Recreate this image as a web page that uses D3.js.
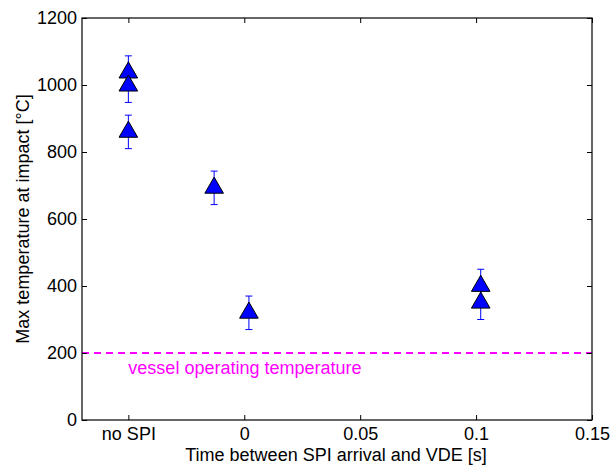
<!DOCTYPE html>
<html>
<head>
<meta charset="utf-8">
<script src="https://cdn.jsdelivr.net/npm/d3@7"></script>
<style>
  html, body { margin: 0; padding: 0; background: #fff; }
  svg { display: block; }
  text { font-family: "Liberation Sans", Arial, Helvetica, sans-serif; }
</style>
</head>
<body>
<div id="chart"></div>
<script>
// Shot timing relative to VDE (s); the "no SPI" cases sit at a placeholder position
const shotDelay = [-0.05, -0.05, -0.05, -0.013, 0.002, 0.102, 0.102];
// Maximum temperature at impact (°C) and its uncertainty
const maxTemp = [1037, 998, 860, 693, 320, 400, 350];
const tempErr = [50, 50, 50, 50, 50, 50, 50];

// Axis ticks
const xTickValues = [-0.05, 0, 0.05, 0.1, 0.15];
const xTickLabels = ["no SPI", "0", "0.05", "0.1", "0.15"];
const yTickValues = [0, 200, 400, 600, 800, 1000, 1200];

// Reference level
const vesselTemp = [200];
const vesselLabel = "vessel operating temperature";

const W = 610, H = 465;
const margin = { left: 82, top: 18, right: 18, bottom: 45 };
const iw = W - margin.left - margin.right;
const ih = H - margin.top - margin.bottom;
const fontSize = 18;

const x = d3.scaleLinear().domain([-0.07, 0.15]).range([0, iw]);
const y = d3.scaleLinear().domain([0, 1200]).range([ih, 0]);

const svg = d3.select("#chart").append("svg")
  .attr("width", W).attr("height", H);
const g = svg.append("g").attr("transform", `translate(${margin.left},${margin.top})`);

// Dashed reference line with its caption
g.selectAll("line.ref").data(vesselTemp).join("line")
  .attr("class", "ref")
  .attr("x1", 0).attr("x2", iw)
  .attr("y1", d => y(d)).attr("y2", d => y(d))
  .attr("stroke", "#ff00ff").attr("stroke-width", 2)
  .attr("stroke-dasharray", "7,5");
g.selectAll("text.ref").data(vesselTemp).join("text")
  .attr("class", "ref")
  .attr("x", x(-0.05))
  .attr("y", d => y(d) + 21)
  .attr("fill", "#ff00ff")
  .attr("font-size", fontSize)
  .text(vesselLabel);

// Data rows
const rows = shotDelay.map((d, i) => ({ t: d, v: maxTemp[i], e: tempErr[i] }));

// Error bars first, markers on top
const capHalf = 3.5;
const eb = g.append("g").attr("stroke", "#0000ff").attr("stroke-width", 1).attr("fill", "none");
rows.forEach(r => {
  const cx = x(r.t);
  eb.append("line").attr("x1", cx).attr("x2", cx).attr("y1", y(r.v - r.e)).attr("y2", y(r.v + r.e));
  eb.append("line").attr("x1", cx - capHalf).attr("x2", cx + capHalf).attr("y1", y(r.v + r.e)).attr("y2", y(r.v + r.e));
  eb.append("line").attr("x1", cx - capHalf).attr("x2", cx + capHalf).attr("y1", y(r.v - r.e)).attr("y2", y(r.v - r.e));
});

const tri = d3.symbol().type(d3.symbolTriangle).size(150);
g.append("g").selectAll("path").data(rows).join("path")
  .attr("d", tri)
  .attr("transform", d => `translate(${x(d.t)},${y(d.v)})`)
  .attr("fill", "#0000ff")
  .attr("stroke", "#000").attr("stroke-width", 1);

// Axes: box with inward ticks on all sides
const tickLen = 5;
const xAxis = d3.axisBottom(x).tickValues(xTickValues)
  .tickFormat((d, i) => xTickLabels[i]).tickSizeInner(-tickLen).tickSizeOuter(0).tickPadding(7);
const yAxis = d3.axisLeft(y).tickValues(yTickValues)
  .tickFormat(d3.format("d")).tickSizeInner(-tickLen).tickSizeOuter(0).tickPadding(5);
const xAxisTop = d3.axisTop(x).tickValues(xTickValues).tickFormat("").tickSizeInner(-tickLen).tickSizeOuter(0);
const yAxisRight = d3.axisRight(y).tickValues(yTickValues).tickFormat("").tickSizeInner(-tickLen).tickSizeOuter(0);

function style(sel) {
  sel.select(".domain").remove();
  sel.selectAll(".tick line").attr("stroke", "#000");
  sel.selectAll(".tick text").attr("fill", "#000").attr("font-size", fontSize)
    .attr("font-family", '"Liberation Sans", Arial, Helvetica, sans-serif');
}
g.append("g").attr("transform", `translate(0,${ih})`).call(xAxis).call(style);
g.append("g").call(yAxis).call(style);
g.append("g").call(xAxisTop).call(style);
g.append("g").attr("transform", `translate(${iw},0)`).call(yAxisRight).call(style);

g.append("rect").attr("x", 0).attr("y", 0).attr("width", iw).attr("height", ih)
  .attr("fill", "none").attr("stroke", "#000").attr("stroke-width", 1.2);

// Axis titles
svg.append("text")
  .attr("x", 336).attr("y", 461)
  .attr("text-anchor", "middle").attr("font-size", fontSize).attr("fill", "#000")
  .text("Time between SPI arrival and VDE [s]");
svg.append("text")
  .attr("transform", `translate(29,${margin.top + ih / 2}) rotate(-90)`)
  .attr("text-anchor", "middle").attr("font-size", fontSize).attr("fill", "#000")
  .text("Max temperature at impact [°C]");
</script>
</body>
</html>
